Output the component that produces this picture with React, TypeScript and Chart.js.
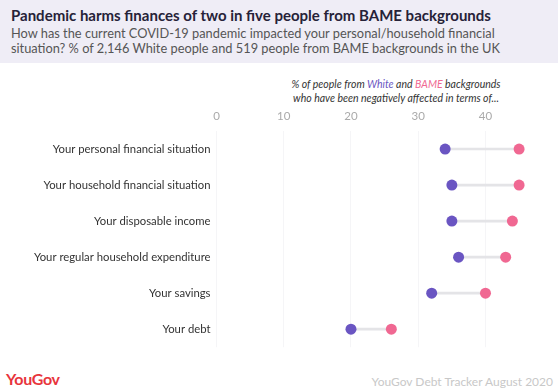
import React, { useEffect, useRef } from "react";
import { Chart, registerables } from "chart.js";

Chart.register(...registerables);

const categories = [
  "Your personal financial situation",
  "Your household financial situation",
  "Your disposable income",
  "Your regular household expenditure",
  "Your savings",
  "Your debt",
];
const whiteValues = [34, 35, 35, 36, 32, 20];
const bameValues = [45, 45, 44, 43, 40, 26];
const xTicks = [0, 10, 20, 30, 40];

const PURPLE = "#6a55c2";
const PINK = "#f06892";
const FONT = "Lato, 'Open Sans', sans-serif";

export default function App() {
  const ref = useRef<HTMLCanvasElement | null>(null);

  useEffect(() => {
    document.body.style.margin = "0";
    const ctx = ref.current!.getContext("2d")!;
    const chart = new Chart(ctx, {
      type: "bar",
      data: {
        labels: categories,
        datasets: [
          {
            type: "line",
            label: "White",
            data: whiteValues,
            showLine: false,
            pointRadius: 5.5,
            pointHoverRadius: 5.5,
            pointBackgroundColor: PURPLE,
            pointBorderColor: PURPLE,
            pointBorderWidth: 0,
            order: 1,
          } as any,
          {
            type: "line",
            label: "BAME",
            data: bameValues,
            showLine: false,
            pointRadius: 5.5,
            pointHoverRadius: 5.5,
            pointBackgroundColor: PINK,
            pointBorderColor: PINK,
            pointBorderWidth: 0,
            order: 1,
          } as any,
          {
            type: "bar",
            label: "gap",
            data: whiteValues.map((w, i) => [w, bameValues[i]]),
            backgroundColor: "#e4e4e7",
            barThickness: 2,
            order: 2,
          } as any,
        ],
      },
      options: {
        indexAxis: "y",
        animation: false,
        responsive: false,
        maintainAspectRatio: false,
        layout: { padding: { left: 0, right: 12, top: 0, bottom: 0 } },
        plugins: {
          legend: { display: false },
          tooltip: { enabled: false },
        },
        scales: {
          x: {
            position: "top",
            min: 0,
            max: 49,
            afterBuildTicks: (scale: any) => {
              scale.ticks = xTicks.map((v) => ({ value: v }));
            },
            afterFit: (scale: any) => {
              scale.height = 31;
            },
            grid: { color: "#f5f5f7", drawTicks: false },
            border: { display: false },
            ticks: {
              color: "#aaaaaa",
              font: { family: FONT, size: 11.5 },
              padding: 8,
            },
          },
          y: {
            afterFit: (scale: any) => {
              scale.width = 216.5;
            },
            grid: { display: false, drawTicks: false },
            border: { display: false },
            ticks: {
              color: "#333333",
              font: { family: FONT, size: 11.3 },
              padding: 6,
            },
          },
        },
      } as any,
    });
    return () => chart.destroy();
  }, []);

  return (
    <div
      style={{
        position: "relative",
        width: 558,
        height: 390,
        background: "#ffffff",
        overflow: "hidden",
        fontFamily: FONT,
      }}
    >
      <div
        style={{
          position: "absolute",
          left: 0,
          top: 0,
          width: 558,
          height: 63,
          background: "#efedf6",
        }}
      />
      <div
        style={{
          position: "absolute",
          left: 11,
          top: 6,
          fontSize: 15,
          fontWeight: 700,
          color: "#262238",
          whiteSpace: "nowrap",
        }}
      >
        Pandemic harms finances of two in five people from BAME backgrounds
      </div>
      <div
        style={{
          position: "absolute",
          left: 11,
          top: 25.5,
          width: 545,
          fontSize: 12.8,
          lineHeight: "15.5px",
          color: "#555555",
        }}
      >
        How has the current COVID-19 pandemic impacted your personal/household financial
        <br />
        situation? % of 2,146 White people and 519 people from BAME backgrounds in the UK
      </div>
      <div
        style={{
          position: "absolute",
          left: 276,
          top: 76.5,
          width: 240,
          textAlign: "center",
          fontSize: 10.5,
          lineHeight: "14px",
          fontStyle: "italic",
          color: "#333333",
        }}
      >
        % of people from <span style={{ color: PURPLE }}>White</span> and{" "}
        <span style={{ color: PINK }}>BAME</span> backgrounds
        <br />
        who have been negatively affected in terms of...
      </div>
      <canvas
        ref={ref}
        width={558}
        height={260}
        style={{ position: "absolute", left: 0, top: 100, width: 558, height: 260 }}
      />
      <div
        style={{
          position: "absolute",
          left: 6,
          top: 369,
          fontSize: 16,
          fontWeight: 700,
          color: "#e8343c",
          letterSpacing: -0.3,
        }}
      >
        YouGov
      </div>
      <div
        style={{
          position: "absolute",
          right: 5,
          top: 374,
          fontSize: 12,
          color: "#c8c8c8",
          whiteSpace: "nowrap",
        }}
      >
        YouGov Debt Tracker August 2020
      </div>
    </div>
  );
}
